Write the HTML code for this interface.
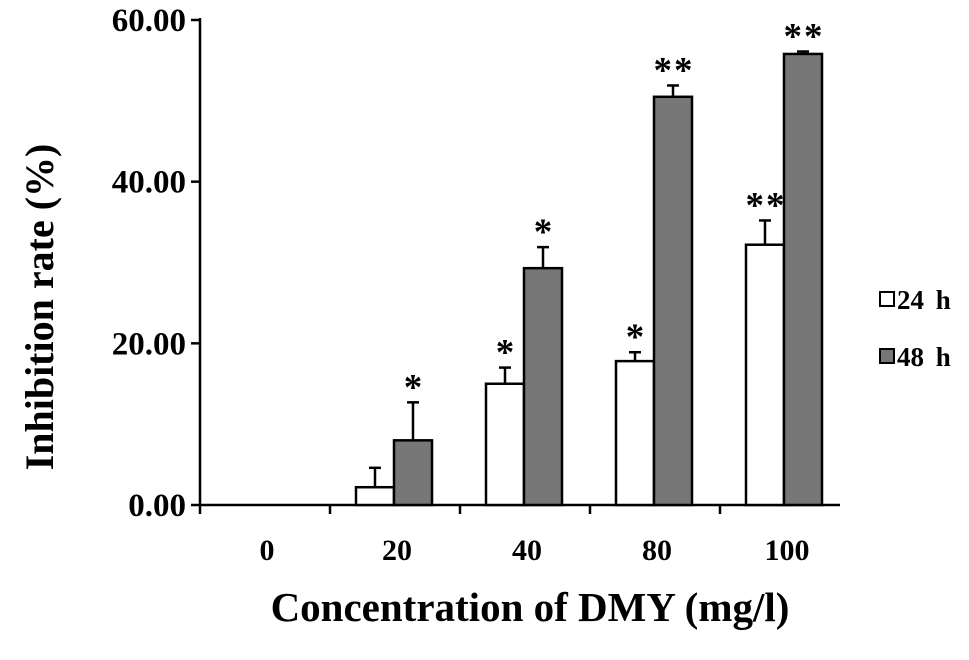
<!DOCTYPE html>
<html><head><meta charset="utf-8"><style>
html,body{margin:0;padding:0;background:#fff;}
svg{display:block;font-family:"Liberation Serif",serif;font-weight:bold;}
</style></head><body>
<svg id="chart" width="969" height="660" viewBox="0 0 969 660">
<g id="marks"></g>
</svg>
<script>
const categories = ["0","20","40","80","100"];
const series24 = [0, 2.2, 15.0, 17.8, 32.2];
const err24 = [0, 2.4, 2.0, 1.1, 3.0];
const series48 = [0, 8.0, 29.3, 50.5, 55.8];
const err48 = [0, 4.7, 2.6, 1.4, 0.3];
const sig24 = ["", "", "*", "*", "**"];
const sig48 = ["", "*", "*", "**", "**"];
const yTicks = [0, 20, 40, 60];
const yTickLabels = ["0.00", "20.00", "40.00", "60.00"];

const NS = "http://www.w3.org/2000/svg";
const svg = document.getElementById("marks");
const x0 = 200, y0 = 505, yTop = 20, yMax = 60;
const step = 130, firstCenter = 264, barW = 38;
function yScale(v){ return y0 - v * (y0 - yTop) / yMax; }
function xCenter(i){ return firstCenter + i * step; }
function mk(tag, attrs, name, text){
  const e = document.createElementNS(NS, tag);
  for (const k in attrs) e.setAttribute(k, attrs[k]);
  
  
  if (text !== undefined) e.textContent = text;
  svg.appendChild(e); return e;
}
mk("line",{x1:x0,y1:yTop-2,x2:x0,y2:y0,stroke:"#000","stroke-width":2.5},"y-axis");
mk("line",{x1:x0,y1:y0,x2:x0+step*categories.length-10,y2:y0,stroke:"#000","stroke-width":2.5},"x-axis");
yTicks.forEach((t,i)=>{
  const y = yScale(t);
  mk("line",{x1:x0-9,y1:y,x2:x0,y2:y,stroke:"#000","stroke-width":2.5},"y-tick");
  mk("text",{x:186,y:y+11,"text-anchor":"end","font-size":33},"y-tick-label",yTickLabels[i]);
});
for(let i=0;i<categories.length;i++){
  const x = x0 + i*step;
  mk("line",{x1:x,y1:y0,x2:x,y2:y0+9,stroke:"#000","stroke-width":2.5},"x-tick");
}
categories.forEach((c,i)=>{
  mk("text",{x:xCenter(i)+3,y:560,"text-anchor":"middle","font-size":30},"x-tick-label",c);
  const bars = [[series24,err24,sig24,"#fff",-barW,"24h"],[series48,err48,sig48,"#777",0,"48h"]];
  bars.forEach(([s,e,sg,fill,off,nm])=>{
    const v = s[i]; if (v<=0) return;
    const x = xCenter(i)+off, y = yScale(v), yt = yScale(v+e[i]);
    const cx = x + barW/2;
    mk("line",{x1:cx,y1:y,x2:cx,y2:yt,stroke:"#000","stroke-width":2.5},"error-bar-"+nm);
    mk("line",{x1:cx-6,y1:yt,x2:cx+6,y2:yt,stroke:"#000","stroke-width":2.5},"error-cap-"+nm);
    mk("rect",{x:x,y:y,width:barW,height:y0-y,fill:fill,stroke:"#000","stroke-width":2.5},"bar-"+nm+"-"+c);
    if (sg[i]) mk("text",{x:cx+1,y:yt-3,"text-anchor":"middle","font-size":37,"letter-spacing":2},"significance-"+nm,sg[i]);
  });
});
mk("rect",{x:880,y:292,width:14,height:14,fill:"#fff",stroke:"#000","stroke-width":2},"legend-swatch-24h");
mk("text",{x:897,y:309,"font-size":27,"word-spacing":5},"legend-label-24h","24 h");
mk("rect",{x:880,y:349,width:14,height:14,fill:"#777",stroke:"#000","stroke-width":2},"legend-swatch-48h");
mk("text",{x:897,y:366,"font-size":27,"word-spacing":5},"legend-label-48h","48 h");
mk("text",{x:0,y:0,transform:"translate(53,307) rotate(-90)","text-anchor":"middle","font-size":40},"y-axis-title","Inhibition rate  (%)");
mk("text",{x:530,y:621,"text-anchor":"middle","font-size":41},"x-axis-title","Concentration of DMY (mg/l)");
</script>
</body></html>
